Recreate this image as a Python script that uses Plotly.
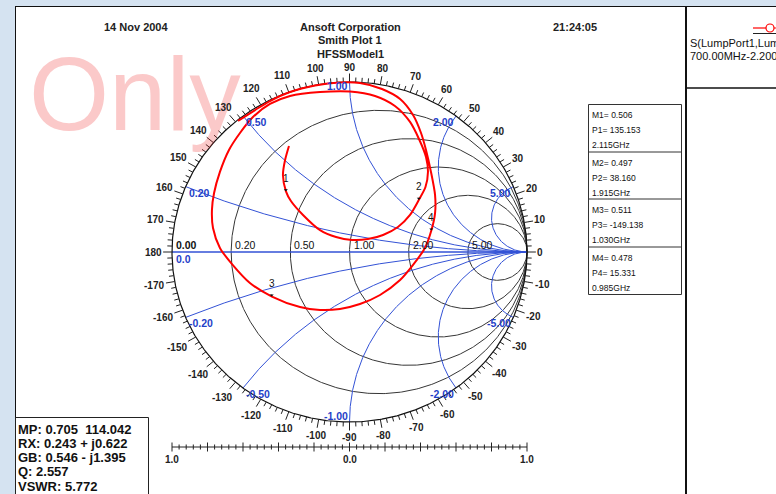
import numpy as np
import plotly.graph_objects as go

W, H = 776, 494
# Smith chart centre and radii (pixels) on the page
CX, CY = 349.5, 252.0
RX, RY = 177.5, 170.0

# S(LumpPort1,LumpPort1), 700 MHz - 2.2 GHz : reflection coefficient (re, im)
s_re = [-0.628, -0.532, -0.448, -0.335, -0.194, -0.054, 0.059, 0.183, 0.285, 0.358,
        0.403, 0.431, 0.459, 0.482, 0.482, 0.461, 0.425, 0.358, 0.285, 0.172,
        0.059, -0.054, -0.166, -0.279, -0.437, -0.561, -0.662, -0.730, -0.769, -0.775,
        -0.763, -0.730, -0.679, -0.617, -0.544, -0.448, -0.335, -0.166, 0.003, 0.144,
        0.256, 0.341, 0.394, 0.431, 0.442, 0.428, 0.391, 0.341, 0.273, 0.189,
        0.104, 0.014, -0.076, -0.166, -0.262, -0.330, -0.358, -0.375, -0.363, -0.341]
s_im = [0.771, 0.835, 0.888, 0.941, 0.979, 0.997, 0.994, 0.959, 0.900, 0.806,
        0.700, 0.600, 0.471, 0.335, 0.229, 0.126, 0.024, -0.076, -0.165, -0.253,
        -0.306, -0.335, -0.341, -0.324, -0.262, -0.182, -0.071, 0.024, 0.141, 0.247,
        0.347, 0.471, 0.600, 0.700, 0.794, 0.871, 0.918, 0.941, 0.944, 0.918,
        0.859, 0.765, 0.659, 0.559, 0.471, 0.382, 0.307, 0.218, 0.147, 0.100,
        0.076, 0.071, 0.088, 0.129, 0.218, 0.300, 0.357, 0.453, 0.541, 0.624]

# Markers (magnitude, phase in degrees, frequency)
marker_names = ["1", "2", "3", "4"]
marker_mag = [0.506, 0.497, 0.511, 0.478]
marker_phase = [135.153, 38.160, -149.138, 15.331]
marker_freq = ["2.115GHz", "1.915GHz", "1.030GHz", "0.985GHz"]

# Smith grid
r_values = [0.2, 0.5, 1.0, 2.0, 5.0]
r_labels = ["0.20", "0.50", "1.00", "2.00", "5.00"]
x_values = [0.2, 0.5, 1.0, 2.0, 5.0]
x_labels = ["0.20", "0.50", "1.00", "2.00", "5.00"]
angle_labels = list(range(-170, 190, 10))

# Linear reflection scale below the chart
scale_labels = ["1.0", "0.0", "1.0"]
scale_label_pos = [-1.0, 0.0, 1.0]

cursor_lines = ["MP: 0.705  114.042", "RX: 0.243 + j0.622", "GB: 0.546 - j1.395",
                "Q: 2.557", "VSWR: 5.772"]

BLUE_LINE = "#3352d6"
BLUE_TEXT = "#1f3fc8"
GRID_BLACK = "#363636"
FONT = "Liberation Sans, Arial, sans-serif"


def px(x):
    return x / W


def py(y):
    return 1 - y / H


def gam(z):
    return (z - 1) / (z + 1)


def join(segments):
    xs, ys = [], []
    for g in segments:
        xs += list(g.real) + [None]
        ys += list(g.imag) + [None]
    return xs, ys


fig = go.Figure()

# resistance circles
u = np.linspace(-np.pi / 2 + 1e-5, np.pi / 2 - 1e-5, 700)
r_segs = [gam(r + 1j * np.tan(u)) for r in r_values]
rx_, ry_ = join(r_segs)
fig.add_trace(go.Scatter(x=rx_, y=ry_, mode="lines", line=dict(color=GRID_BLACK, width=1),
                         hoverinfo="skip"))

# reactance arcs and real axis
v = np.linspace(0, np.pi / 2 - 1e-5, 500)
x_segs = []
for xv in x_values:
    x_segs.append(gam(np.tan(v) + 1j * xv))
    x_segs.append(gam(np.tan(v) - 1j * xv))
xx_, xy_ = join(x_segs)
fig.add_trace(go.Scatter(x=xx_, y=xy_, mode="lines", line=dict(color=BLUE_LINE, width=1),
                         hoverinfo="skip"))
fig.add_trace(go.Scatter(x=[-1, 1], y=[0, 0], mode="lines",
                         line=dict(color=BLUE_LINE, width=1.6), hoverinfo="skip"))

# outer circle
t = np.linspace(0, 2 * np.pi, 721)
fig.add_trace(go.Scatter(x=np.cos(t), y=np.sin(t), mode="lines",
                         line=dict(color="#111111", width=1.2), hoverinfo="skip"))

# angle ticks every 2 degrees, longer every 10
tk_x, tk_y = [], []
for a in range(-178, 182, 2):
    th = np.radians(a)
    L = 0.05 if a % 10 == 0 else 0.027
    tk_x += [np.cos(th), (1 + L) * np.cos(th), None]
    tk_y += [np.sin(th), (1 + L) * np.sin(th), None]
fig.add_trace(go.Scatter(x=tk_x, y=tk_y, mode="lines", line=dict(color="#222222", width=1),
                         hoverinfo="skip"))

# linear scale under the chart
SY = (CY - 447) / RY
sc_x, sc_y = [-1, 1, None], [SY, SY, None]
for i in range(-25, 26):
    val = i * 0.04
    h = 4.5 / RY if i % 5 == 0 else 2.5 / RY
    sc_x += [val, val, None]
    sc_y += [SY - h, SY + h, None]
fig.add_trace(go.Scatter(x=sc_x, y=sc_y, mode="lines", line=dict(color="#222222", width=1),
                         hoverinfo="skip"))

# S11 trace
fig.add_trace(go.Scatter(x=s_re, y=s_im, mode="lines",
                         line=dict(color="#ff0000", width=2, shape="spline", smoothing=0.8),
                         hoverinfo="skip"))

ann = []

# watermark
ann.append(dict(x=px(27), y=py(94), xref="paper", yref="paper", text="Only",
                showarrow=False, xanchor="left", yanchor="middle",
                font=dict(family=FONT, size=103, color="rgba(240,40,40,0.25)")))

# markers on the trace
for name, m, p in zip(marker_names, marker_mag, marker_phase):
    g = m * np.exp(1j * np.radians(p))
    ann.append(dict(x=g.real, y=g.imag, xref="x", yref="y", text=name, showarrow=True,
                    ax=0, ay=-13, arrowhead=1, arrowsize=0.7, arrowwidth=1,
                    arrowcolor="#111111", standoff=0, startstandoff=4,
                    font=dict(family=FONT, size=10, color="#111111")))

# angle labels around the rim
for a in angle_labels:
    th = np.radians(a)
    s = str(a)
    w = 10 * (0.556 * sum(ch.isdigit() for ch in s) + 0.333 * s.count("-"))
    off = 10 + 0.5 * w * abs(np.cos(th)) + 5 * abs(np.sin(th))
    ann.append(dict(x=np.cos(th), y=np.sin(th), xref="x", yref="y", text="<b>%s</b>" % s,
                    showarrow=False, xanchor="center", yanchor="middle",
                    xshift=off * np.cos(th), yshift=off * np.sin(th),
                    font=dict(family=FONT, size=10, color="#222222")))

# resistance labels on the real axis
ann.append(dict(x=-1, y=0, xref="x", yref="y", text="<b>0.00</b>", showarrow=False,
                xanchor="left", yanchor="middle", xshift=2, yshift=7,
                font=dict(family=FONT, size=10.5, color="#111111")))
ann.append(dict(x=-1, y=0, xref="x", yref="y", text="<b>0.0</b>", showarrow=False,
                xanchor="left", yanchor="middle", xshift=2, yshift=-7,
                font=dict(family=FONT, size=10.5, color=BLUE_TEXT)))
for r, lab in zip(r_values, r_labels):
    ann.append(dict(x=(r - 1) / (r + 1), y=0, xref="x", yref="y", text=lab, showarrow=False,
                    xanchor="left", yanchor="middle", xshift=2, yshift=7,
                    font=dict(family=FONT, size=10.5, color="#111111")))

# reactance labels at the rim
for xv, lab in zip(x_values, x_labels):
    for sign in (1, -1):
        g = gam(1j * sign * xv)
        left = xv < 1
        yshift = -6
        if xv == 1 and sign < 0:
            yshift = 6
        elif xv == 1:
            yshift = -4
        ann.append(dict(x=g.real, y=g.imag, xref="x", yref="y",
                        text="<b>%s%s</b>" % ("-" if sign < 0 else "", lab),
                        showarrow=False, xanchor="left" if left else "right",
                        yanchor="middle", xshift=1 if left else 0, yshift=yshift,
                        font=dict(family=FONT, size=10.5, color=BLUE_TEXT)))

# linear scale labels
for v_, lab in zip(scale_label_pos, scale_labels):
    ann.append(dict(x=v_, y=SY, xref="x", yref="y", text="<b>%s</b>" % lab, showarrow=False,
                    xanchor="center", yanchor="middle", yshift=-12,
                    font=dict(family=FONT, size=10, color="#222222")))

# header
for txt, x0, y0 in [("14 Nov 2004", 136, 27), ("Ansoft Corporation", 350, 27),
                    ("Smith Plot 1", 350, 40), ("HFSSModel1", 350, 54),
                    ("21:24:05", 575, 27)]:
    ann.append(dict(x=px(x0), y=py(y0), xref="paper", yref="paper", text="<b>%s</b>" % txt,
                    showarrow=False, xanchor="center", yanchor="middle",
                    font=dict(family=FONT, size=11, color="#222222")))

# marker table
box_tops = [104, 152, 199, 247]
for i, top in enumerate(box_tops):
    g_lines = ["M%d= %.3f" % (i + 1, marker_mag[i]),
               "P%d= %.3f" % (i + 1, marker_phase[i]),
               marker_freq[i]]
    for k, line in enumerate(g_lines):
        ann.append(dict(x=px(590), y=py(top + 10.5 + 15 * k), xref="paper", yref="paper",
                        text=line, showarrow=False, xanchor="left", yanchor="middle",
                        font=dict(family=FONT, size=8.5, color="#111111")))

# cursor readout
for k, line in enumerate(cursor_lines):
    ann.append(dict(x=px(16), y=py(429 + 14.3 * k), xref="paper", yref="paper",
                    text="<b>%s</b>" % line, showarrow=False, xanchor="left", yanchor="middle",
                    font=dict(family=FONT, size=13, color="#111111")))

# legend panel
ann.append(dict(x=px(688), y=py(43), xref="paper", yref="paper",
                text="S(LumpPort1,LumpPort1)", showarrow=False, xanchor="left",
                yanchor="middle", font=dict(family=FONT, size=11, color="#111111")))
ann.append(dict(x=px(688), y=py(56), xref="paper", yref="paper",
                text="700.00MHz-2.200GHz", showarrow=False, xanchor="left",
                yanchor="middle", font=dict(family=FONT, size=11, color="#111111")))

shapes = []


def rect(x0, y0, x1, y1, **kw):
    shapes.append(dict(type="rect", xref="paper", yref="paper", x0=px(x0), x1=px(x1),
                       y0=py(y1), y1=py(y0), layer="below", **kw))


def line(x0, y0, x1, y1, color="#111111", width=1):
    shapes.append(dict(type="line", xref="paper", yref="paper", x0=px(x0), x1=px(x1),
                       y0=py(y0), y1=py(y1), layer="below",
                       line=dict(color=color, width=width)))


rect(15, 6, 776, 494, fillcolor="white", line=dict(width=0))
line(15.5, 6, 15.5, 494)
line(15, 6.5, 776, 6.5)
line(686, 6, 686, 494, width=2)
line(686, 88, 776, 88, width=1.5)
rect(588.5, 104.5, 681.5, 294.5, fillcolor="rgba(0,0,0,0)", line=dict(color="#333333", width=1))
for yy in box_tops[1:]:
    line(588.5, yy, 681.5, yy, color="#333333")
rect(15.5, 417.5, 148.5, 500, fillcolor="rgba(0,0,0,0)", line=dict(color="#222222", width=1))

# legend glyph
line(753, 28, 766, 28, color="#ff0000", width=1.2)
line(774, 28, 777, 28, color="#ff0000", width=1.2)
shapes.append(dict(type="circle", xref="paper", yref="paper", x0=px(766), x1=px(774),
                   y0=py(32), y1=py(24), line=dict(color="#ff0000", width=1.2),
                   fillcolor="white", layer="below"))
line(753, 33.5, 777, 33.5, color="#222222", width=1)

fig.update_layout(
    width=W, height=H, autosize=False,
    margin=dict(l=0, r=0, t=0, b=0, pad=0),
    paper_bgcolor="#d5e3f1", plot_bgcolor="#d5e3f1",
    showlegend=False,
    xaxis=dict(range=[(0 - CX) / RX, (W - CX) / RX], visible=False, fixedrange=True),
    yaxis=dict(range=[(CY - H) / RY, CY / RY], visible=False, fixedrange=True),
    annotations=ann, shapes=shapes,
    font=dict(family=FONT),
)

fig.write_html("out.html", config={"displayModeBar": False})
